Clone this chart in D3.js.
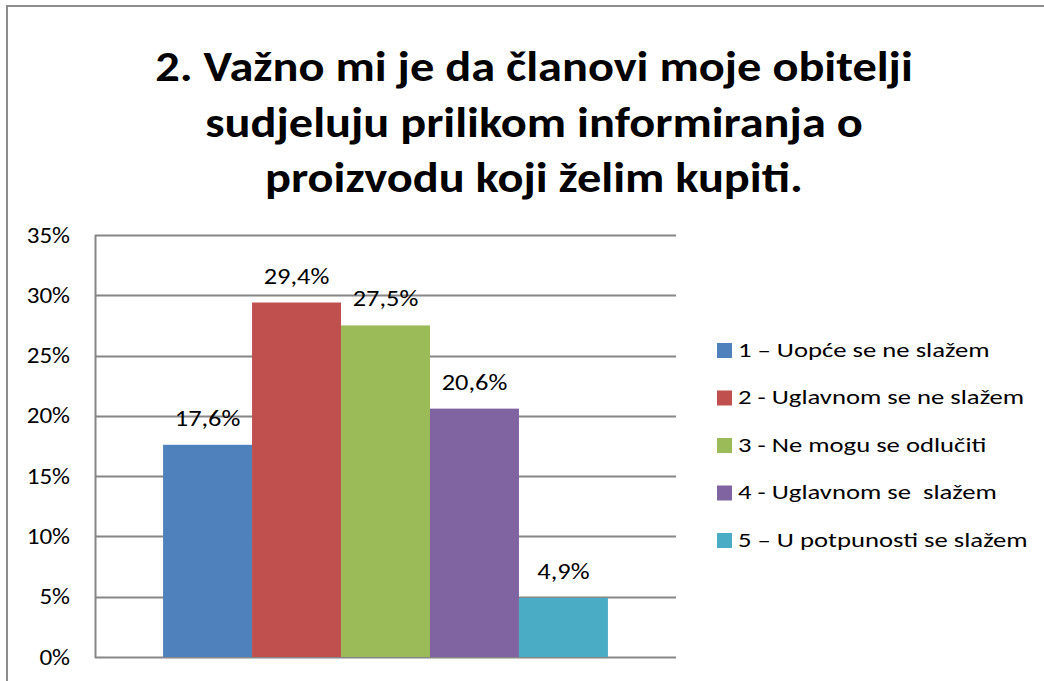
<!DOCTYPE html>
<html>
<head>
<meta charset="utf-8">
<script src="https://cdn.jsdelivr.net/npm/d3@7"></script>
<style>
  html, body { margin: 0; padding: 0; background: #fff; }
  svg { display: block; }
  text { font-family: Carlito, Calibri, Lato, "Open Sans", sans-serif; fill: #000; }
</style>
</head>
<body>
<svg id="chart" width="1044" height="681"></svg>
<script>
// ---- data ----
const titleLines = [
  "2. Važno mi je da članovi moje obitelji",
  "sudjeluju prilikom informiranja o",
  "proizvodu koji želim kupiti."
];
const categories = ["Q2"];
const seriesNames = [
  "1 – Uopće se ne slažem",
  "2 - Uglavnom se ne slažem",
  "3 - Ne mogu se odlučiti",
  "4 - Uglavnom se  slažem",
  "5 – U potpunosti se slažem"
];
const seriesValues = [0.176, 0.294, 0.275, 0.206, 0.049];
const valueLabels = ["17,6%", "29,4%", "27,5%", "20,6%", "4,9%"];
const yTicks = [0, 0.05, 0.10, 0.15, 0.20, 0.25, 0.30, 0.35];
const yTickLabels = ["0%", "5%", "10%", "15%", "20%", "25%", "30%", "35%"];
const colors = ["#4F81BD", "#C0504D", "#9BBB59", "#8064A2", "#4BACC6"];

// ---- layout ----
const svg = d3.select("#chart");
const plot = { left: 95, right: 676, top: 235, bottom: 657 };
const gridColor = "#868686";

// horizontal glyph stretch (reference text is wider than the available fonts)
function hstretch(sel, f) {
  sel.each(function () {
    const s = d3.select(this);
    const x = +s.attr("x") || 0;
    s.attr("x", x / f).attr("transform", `scale(${f},1)`);
  });
}

// chart frame
svg.append("rect")
  .attr("x", 7).attr("y", 6).attr("width", 1100).attr("height", 700)
  .attr("fill", "none").attr("stroke", "#8c8c8c").attr("stroke-width", 2);

// title
const titleBaselines = [81, 137, 192];
const title = svg.append("g");
titleLines.forEach((t, i) => {
  const el = title.append("text")
    .attr("x", 534).attr("y", titleBaselines[i])
    .attr("text-anchor", "middle")
    .style("font-size", "43px").style("font-weight", "bold")
    .text(t);
  hstretch(el, 1.125);
});

// scales
const y = d3.scaleLinear().domain([0, 0.35]).range([plot.bottom, plot.top]);
const x0 = d3.scaleBand().domain(categories).range([plot.left, plot.right])
  .paddingInner(0).paddingOuter(0.153);
const x1 = d3.scaleBand().domain(d3.range(seriesNames.length))
  .range([0, x0.bandwidth()]).padding(0);

// gridlines
svg.append("g").selectAll("line").data(yTicks).join("line")
  .attr("x1", plot.left).attr("x2", plot.right)
  .attr("y1", d => Math.round(y(d)) + 0.5).attr("y2", d => Math.round(y(d)) + 0.5)
  .attr("stroke", gridColor).attr("stroke-width", 2);

// y axis
const yAxis = d3.axisLeft(y).tickValues(yTicks)
  .tickFormat((d, i) => yTickLabels[i]).tickSize(0).tickPadding(25);
const gy = svg.append("g").attr("transform", `translate(${plot.left},0)`).call(yAxis);
gy.select(".domain").attr("stroke", gridColor).attr("stroke-width", 2)
  .attr("d", `M0.5,${plot.top}V${plot.bottom + 1}`);
gy.selectAll("text").style("font-size", "22px").attr("fill", "#000")
  .style("font-family", "Carlito, Calibri, Lato, 'Open Sans', sans-serif");
hstretch(gy.selectAll("text"), 1.14);

// bars
const g = svg.append("g");
categories.forEach(c => {
  g.selectAll("rect.bar").data(seriesValues).join("rect")
    .attr("class", "bar")
    .attr("x", (d, i) => x0(c) + x1(i))
    .attr("width", x1.bandwidth())
    .attr("y", d => y(d))
    .attr("height", d => y(0) - y(d))
    .attr("fill", (d, i) => colors[i]);
  const lbls = g.selectAll("text.lbl").data(seriesValues).join("text")
    .attr("class", "lbl")
    .attr("x", (d, i) => x0(c) + x1(i) + x1.bandwidth() / 2)
    .attr("y", d => y(d) - 19)
    .attr("text-anchor", "middle")
    .style("font-size", "22px")
    .text((d, i) => valueLabels[i]);
  hstretch(lbls, 1.2);
});

// legend
const legendTop = 350, legendStep = 47.5;
const lg = svg.append("g");
seriesNames.forEach((n, i) => {
  const cy = legendTop + i * legendStep;
  lg.append("rect").attr("x", 717).attr("y", cy - 7).attr("width", 15).attr("height", 15)
    .attr("fill", colors[i]);
  const t = lg.append("text").attr("x", 738).attr("y", cy + 7)
    .style("font-size", "21px").style("white-space", "pre").text(n);
  hstretch(t, 1.27);
});
</script>
</body>
</html>
